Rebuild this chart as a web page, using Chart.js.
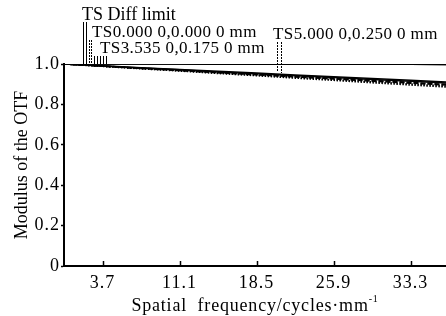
<!DOCTYPE html>
<html>
<head>
<meta charset="utf-8">
<script src="https://cdn.jsdelivr.net/npm/chart.js@4.4.0/dist/chart.umd.min.js"></script>
<style>
  html, body { margin: 0; padding: 0; background: #fff; }
  #wrap { width: 446px; height: 316px; position: relative; }
</style>
</head>
<body>
<div id="wrap"><canvas id="otfChart"></canvas></div>
<script>
// spatial frequency samples (cycles/mm)
const freq = [0, 3.7, 7.4, 11.1, 14.8, 18.5, 22.2, 25.9, 29.6, 33.3, 37.0];
const xTicks = [3.7, 11.1, 18.5, 25.9, 33.3];
const yTicks = [0, 0.2, 0.4, 0.6, 0.8, 1.0];

const diffT = [1, 0.9998, 0.9996, 0.9994, 0.9992, 0.999, 0.9988, 0.9986, 0.9984, 0.9982, 0.998];
const diffS = [1, 0.9998, 0.9996, 0.9994, 0.9992, 0.999, 0.9988, 0.9986, 0.9984, 0.9982, 0.998];
const ts0T = [1, 0.991, 0.982, 0.973, 0.964, 0.955, 0.946, 0.937, 0.928, 0.919, 0.910];
const ts0S = [1, 0.990, 0.980, 0.971, 0.961, 0.952, 0.942, 0.933, 0.923, 0.914, 0.905];
const ts1T = [1, 0.989, 0.978, 0.968, 0.957, 0.947, 0.936, 0.926, 0.915, 0.905, 0.895];
const ts1S = [1, 0.990, 0.979, 0.969, 0.959, 0.949, 0.939, 0.929, 0.919, 0.909, 0.899];
const ts2T = [1, 0.988, 0.976, 0.965, 0.953, 0.942, 0.930, 0.919, 0.907, 0.896, 0.885];
const ts2S = [1, 0.989, 0.978, 0.967, 0.956, 0.945, 0.934, 0.923, 0.912, 0.901, 0.890];

const serif = '"Liberation Serif", "Times New Roman", serif';

function series(label, values, dash) {
  return {
    label,
    data: freq.map((f, i) => ({ x: f, y: values[i] })),
    borderColor: '#000',
    borderWidth: 1.5,
    borderDash: dash,
    pointRadius: 0,
    tension: 0,
    fill: false
  };
}

// labels with the little marker lines, drawn the way the optics software does
const labelPlugin = {
  id: 'otfLabels',
  beforeDraw(chart) {
    chart.ctx.letterSpacing = '1px';
  },
  afterDraw(chart) {
    const ctx = chart.ctx;
    const { chartArea } = chart;
    const x = chart.scales.x;
    ctx.save();
    ctx.fillStyle = '#000';
    ctx.textBaseline = 'alphabetic';
    ctx.textAlign = 'left';
    ctx.font = '18px ' + serif;
    ctx.letterSpacing = '0px';
    ctx.fillText('TS Diff limit', 82, 20);
    ctx.font = '17px ' + serif;
    ctx.letterSpacing = '0.4px';
    ctx.fillText('TS0.000 0,0.000 0 mm', 92, 37);
    ctx.fillText('TS3.535 0,0.175 0 mm', 100, 53);
    ctx.fillText('TS5.000 0,0.250 0 mm', 273, 39);

    const vline = (px, y0, y1, dash) => {
      ctx.beginPath();
      ctx.setLineDash(dash);
      ctx.moveTo(px + 0.5, y0);
      ctx.lineTo(px + 0.5, y1);
      ctx.stroke();
    };
    ctx.strokeStyle = '#000';
    ctx.lineWidth = 1;
    vline(83, 22, 64, []);
    vline(86, 22, 64, []);
    vline(89, 40, 64, [2, 1]);
    vline(91, 40, 64, [2, 1]);
    [94, 97, 100, 103, 106].forEach((p) => vline(p, 56, 64, []));
    vline(277, 42, 72, [2, 1]);
    vline(281, 42, 73, [2, 1]);

    // inward x ticks
    ctx.setLineDash([]);
    ctx.lineWidth = 1.5;
    xTicks.forEach((t) => {
      const px = Math.round(x.getPixelForValue(t)) + 0.5;
      ctx.beginPath();
      ctx.moveTo(px, chartArea.bottom);
      ctx.lineTo(px, chartArea.bottom - 5);
      ctx.stroke();
    });

    // x axis title with superscript
    ctx.letterSpacing = '0.8px';
    ctx.font = '18px ' + serif;
    const main = 'Spatial  frequency/cycles\u00b7mm';
    const w1 = ctx.measureText(main).width;
    ctx.font = '10px ' + serif;
    const w2 = ctx.measureText('-1').width;
    const cx = (chartArea.left + chartArea.right) / 2;
    const start = cx - (w1 + w2) / 2;
    ctx.font = '18px ' + serif;
    ctx.fillText(main, start, 311);
    ctx.font = '10px ' + serif;
    ctx.fillText('-1', start + w1, 302);

    // y axis title
    ctx.letterSpacing = '0px';
    ctx.font = '18px ' + serif;
    ctx.translate(22, (chartArea.top + chartArea.bottom) / 2);
    ctx.rotate(-Math.PI / 2);
    ctx.textAlign = 'center';
    ctx.textBaseline = 'middle';
    ctx.fillText('Modulus of the OTF', 0, 0);
    ctx.restore();
  }
};

new Chart(document.getElementById('otfChart'), {
  type: 'line',
  data: {
    datasets: [
      series('Diff limit T', diffT, []),
      series('Diff limit S', diffS, []),
      series('TS0.0000 T', ts0T, []),
      series('TS0.0000 S', ts0S, []),
      series('TS3.5350 T', ts1T, [5, 2]),
      series('TS3.5350 S', ts1S, [5, 2]),
      series('TS5.0000 T', ts2T, [1.5, 1.5]),
      series('TS5.0000 S', ts2S, [1.5, 1.5])
    ]
  },
  options: {
    responsive: true,
    maintainAspectRatio: false,
    animation: false,
    layout: { padding: { top: 64, right: 0, left: 0, bottom: 0 } },
    plugins: { legend: { display: false }, tooltip: { enabled: false } },
    scales: {
      x: {
        type: 'linear',
        min: 0,
        max: 36.7,
        afterBuildTicks: (s) => { s.ticks = xTicks.map((v) => ({ value: v })); },
        afterFit: (s) => { s.height = 50; },
        grid: { display: false, drawTicks: false },
        border: { display: true, color: '#000', width: 2 },
        ticks: {
          color: '#000',
          font: { family: serif, size: 18 },
          padding: 6,
          maxRotation: 0,
          autoSkip: false,
          callback: (v) => v.toFixed(1)
        }
      },
      y: {
        min: 0,
        max: 1,
        afterBuildTicks: (s) => { s.ticks = yTicks.map((v) => ({ value: v })); },
        afterFit: (s) => { s.width = 64; },
        grid: { drawOnChartArea: false, drawTicks: true, tickLength: 3, color: '#000', tickWidth: 1.5 },
        border: { display: true, color: '#000', width: 2 },
        ticks: {
          color: '#000',
          font: { family: serif, size: 18 },
          padding: 1,
          callback: (v) => (v === 0 ? '0' : v.toFixed(1))
        }
      }
    }
  },
  plugins: [labelPlugin]
});
</script>
</body>
</html>
